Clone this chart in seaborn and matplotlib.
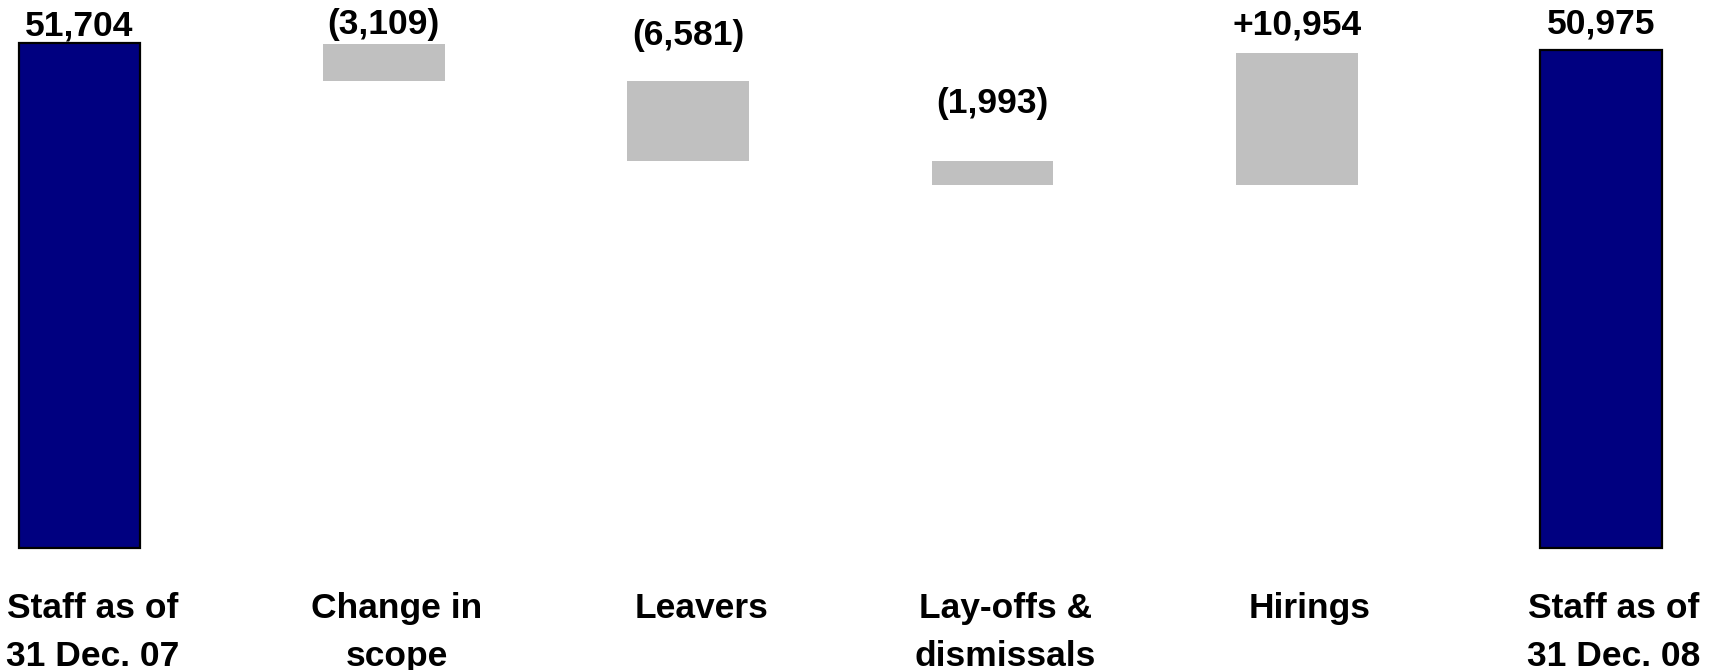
import numpy as np
import pandas as pd
import matplotlib
matplotlib.use("Agg")
import matplotlib.pyplot as plt
import seaborn as sns

# ---- data ----
categories = ["Staff as of\n31 Dec. 07", "Change in\nscope", "Leavers",
              "Lay-offs &\ndismissals", "Hirings", "Staff as of\n31 Dec. 08"]
start_total = 51704
changes = [-3109, -6581, -1993, 10954]
end_total = 50975

# ---- style ----
sns.set_theme(style="white")
plt.rcParams["font.family"] = ["Liberation Sans", "DejaVu Sans"]
plt.rcParams["font.weight"] = "bold"

navy = "#000080"
grey = "#C0C0C0"

fig = plt.figure(figsize=(17.13, 6.70), dpi=100)
ax = fig.add_axes([0, 0, 1, 1])

# total bars via seaborn
totals = [start_total] + [np.nan] * len(changes) + [end_total]
df = pd.DataFrame({"cat": categories, "val": totals})
sns.barplot(data=df, x="cat", y="val", order=categories, ax=ax,
            color=navy, saturation=1, width=0.4, edgecolor="black",
            linewidth=1.6, errorbar=None)

# floating bars (separate scale as in the original)
ax2 = ax.twinx()
levels = start_total + np.concatenate([[0], np.cumsum(changes)])
before = levels[:-1]
after = levels[1:]
bottoms = np.minimum(before, after)
heights = np.abs(changes)
pos = np.arange(1, 1 + len(changes))
ax2.bar(pos, heights, bottom=bottoms, width=0.4, color=grey, linewidth=0)

# axes limits / cosmetics
ax.set_xlim(-0.2613, 5.368)
ax.set_ylim(-12536, 56140)
ax2.set_ylim(-253, 55349)
for a in (ax, ax2):
    a.set_axis_off()

# value labels
def fmt_change(v):
    return f"+{v:,}" if v > 0 else f"({abs(v):,})"

label_off = [8, 10, 36, 48, 18, 17]  # pixel gap from bar top to baseline
fs = 25.5
ax.annotate(f"{start_total:,}", xy=(0, start_total), xytext=(0, label_off[0]),
            textcoords="offset pixels", ha="center", va="baseline",
            fontsize=fs, fontweight="bold", color="black")
for i, (p, c) in enumerate(zip(pos, changes)):
    top = max(before[i], after[i])
    ax2.annotate(fmt_change(c), xy=(p, top), xytext=(0, label_off[i + 1]),
                 textcoords="offset pixels", ha="center", va="baseline",
                 fontsize=fs, fontweight="bold", color="black")
ax.annotate(f"{end_total:,}", xy=(5, end_total), xytext=(0, label_off[5]),
            textcoords="offset pixels", ha="center", va="baseline",
            fontsize=fs, fontweight="bold", color="black")

# category labels
for i, c in enumerate(categories):
    ax.annotate(c, xy=(i, 0), xytext=(13, -44), textcoords="offset pixels",
                ha="center", va="top", fontsize=fs, fontweight="bold",
                color="black", linespacing=1.6, annotation_clip=False)

fig.savefig("out.png", dpi=100)
